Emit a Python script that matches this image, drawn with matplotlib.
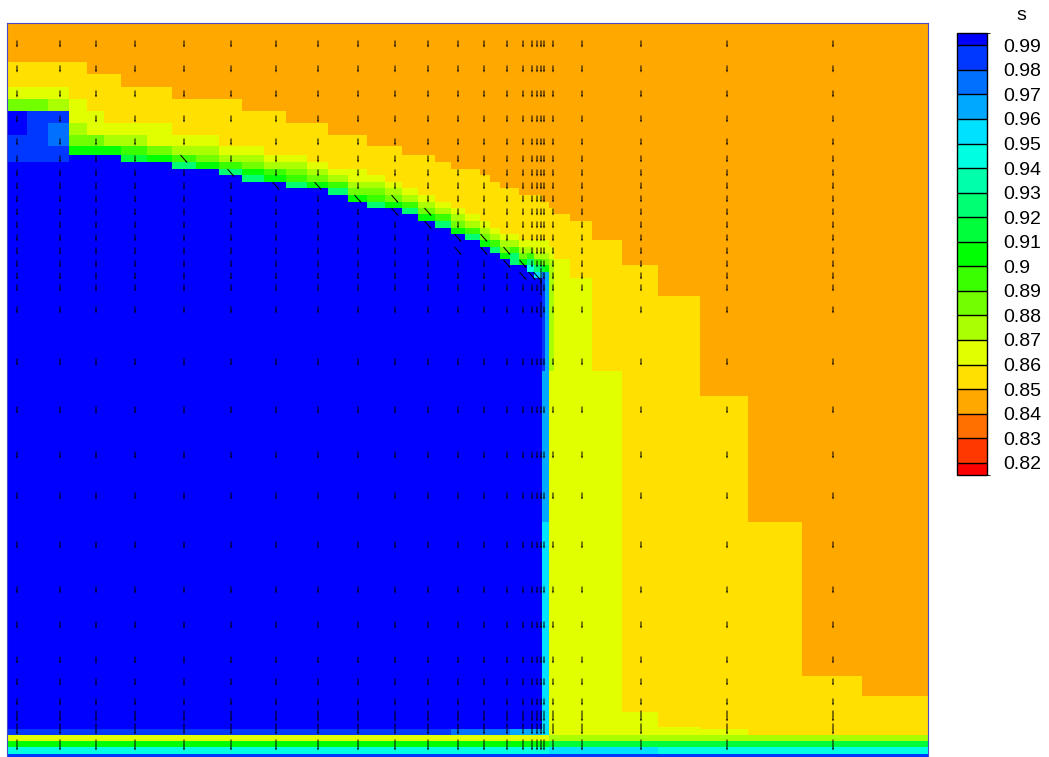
import re
import numpy as np
import matplotlib.pyplot as plt
from matplotlib.colors import LinearSegmentedColormap, ListedColormap, BoundaryNorm

plt.rcParams['font.family'] = ['Liberation Sans', 'DejaVu Sans']

# contour levels of s, plus half-width end bands
levels = [0.82, 0.83, 0.84, 0.85, 0.86, 0.87, 0.88, 0.89, 0.90,
          0.91, 0.92, 0.93, 0.94, 0.95, 0.96, 0.97, 0.98, 0.99]
bounds = [0.815] + levels + [0.995]

# one letter per band of s
band_value = {'B': 0.993, 'b': 0.985, 'c': 0.975, 'd': 0.965, 'e': 0.955,
              'f': 0.945, 'g': 0.935, 'h': 0.925, 'i': 0.915, 'G': 0.905,
              'j': 0.895, 'k': 0.885, 'l': 0.875, 'L': 0.865, 'Y': 0.855,
              'O': 0.845}

# cell edges of the mesh (mm), x left->right, z top->bottom
x_edges = [0, 20, 41, 62, 80, 97, 114, 140, 165, 189, 212, 235, 257, 279,
           300, 321, 341, 360, 378, 395, 411, 428, 444, 458, 473, 483, 493,
           503, 512, 520, 527, 535, 538, 542, 547, 563, 585, 615, 651, 693,
           741, 795, 855, 921]
z_edges = [734, 695, 683, 670, 658, 646, 634, 622, 611, 602, 595, 588, 582,
           575, 569, 562, 555, 549, 543, 536, 529, 523, 517, 510, 504, 498,
           492, 485, 479, 461, 386, 361, 235, 81, 61, 45, 30, 28, 22, 16, 10,
           3, 0]

# band letters of each mesh column, top to bottom, run-length coded
columns = [
    "OY2LkB2b3B27bLGfb", "OY2Lkb5B27bLGfb", "OY2Llbc2b2B27bLGfb",
    "OY3L2lkGB28bLGfb", "O2Y3L2kGB28bLGfb", "O2Y4LlGB28bLGfb",
    "O3Y3LljiB27bLGfb", "O3Y3L2kGB27bLGfb", "O4Y3LljhB26bLGfb",
    "O4Y3LlkGB26bLGfb", "O4Y4LljhB25bLGfb", "O5Y3LlkGhB24bLGfb",
    "O5Y4LljGB24bLGfb", "O6Y3LlkjhB23bLGfb", "O6Y4LlkGB23bLGfb",
    "O7Y4LljhB22bLGfb", "O7Y4L2lkGB21bLGfb", "O8Y4LlkjhB20bLGfb",
    "O8Y5LlkGB20bLGfb", "O9Y5LljhB19bLGfb", "O9Y6LlkGB18bLGfb",
    "O10Y6LljhB17bLGfb", "O11Y6LlkGB16cLGfb", "O11Y7LljhB15cLGfb",
    "O12Y7LlkGB14cLGfb", "O13Y7LljhB13cLGfb", "O14Y7LlkGB12cLGfb",
    "O14Y7Lljh2B11dLGfb", "O15Y7LlkGB11dLGfb", "O15Y7LljhfB10dLGfb",
    "O15Y7L2ljheB9dLGfb", "O16Y6L2lkicb2d2e6LGfb", "O16Y6L2lkGd5e6LGfb",
    "O17Y6L2l5L8lieb", "O18Y7L13lieb", "O19Y9L10lieb", "O22Y8L8lieb",
    "O26Y9L3lieb", "O29Y7L2lifb", "O31Y6Llifb", "O32Y6lifb", "O33Y5lifb",
    "O34Y4lifb",
]

# velocity vectors: grid positions (mm) and components
arrow_x = [10, 53, 89, 128, 177, 224, 269, 311, 351, 388, 421, 451, 477,
           500, 516, 525, 530, 534, 537, 546, 575, 634, 720, 826]
arrow_z = [713, 688, 663, 638, 615, 598, 584, 571, 558, 545, 532, 519, 506,
           493, 481, 469, 447, 395, 347, 302, 261, 212, 167, 132, 97, 75,
           55, 41, 28, 12]
tilted = [(4, 5), (5, 6), (6, 7), (7, 7), (8, 8), (9, 8), (9, 9), (10, 10),
          (11, 11), (11, 12), (12, 12), (13, 13), (14, 13), (14, 14),
          (15, 14), (16, 14), (13, 12), (12, 11), (10, 9)]
long_down = [(17, 14), (17, 15), (17, 16)]
bottom_rows = [27, 28, 29]


def decode(code):
    out = []
    for ch, n in re.findall(r'([A-Za-z])(\d*)', code):
        out += [band_value[ch]] * int(n or 1)
    return out


s = np.array([decode(c) for c in columns]).T      # rows top->bottom
s = s[::-1]
z = np.array(z_edges[::-1])

base = LinearSegmentedColormap.from_list(
    'rainbow5', ['#ff0000', '#ffff00', '#00ff00', '#00ffff', '#0000ff'])
cmap = ListedColormap(base(np.linspace(0, 1, len(bounds) - 1)))
norm = BoundaryNorm(bounds, cmap.N)

fig = plt.figure(figsize=(10.49, 7.57), dpi=100)
ax = fig.add_axes([7 / 1049, 0, 921 / 1049, 734 / 757])
mesh = ax.pcolormesh(x_edges, z, s, cmap=cmap, norm=norm, shading='flat')

X, Z = np.meshgrid(arrow_x, arrow_z, indexing='ij')
U = np.zeros_like(X, dtype=float)
V = np.full_like(X, -7.0, dtype=float)
for i, j in tilted:
    U[i, j], V[i, j] = 7, -8
for i, j in long_down:
    V[i, j] = -16
V[:, bottom_rows] = -11
ax.quiver(X, Z, U, V, angles='xy', scale_units='xy', scale=1, units='xy',
          width=1.0, headwidth=2.2, headlength=2.5, headaxislength=2.2,
          pivot='middle', color='k')

ax.set_xlim(0, 921)
ax.set_ylim(0, 734)
ax.set_xticks([])
ax.set_yticks([])
for sp in ax.spines.values():
    sp.set_color('#4848c8')
    sp.set_linewidth(0.8)

cax = fig.add_axes([957 / 1049, (757 - 475) / 757, 30 / 1049, 442 / 757])
cb = fig.colorbar(mesh, cax=cax, ticks=levels, spacing='proportional',
                  drawedges=True)
cb.dividers.set_color('k')
cb.dividers.set_linewidth(1)
cb.outline.set_edgecolor('k')
cb.outline.set_linewidth(1)
cax.tick_params(length=0, pad=12, labelsize=14)
cax.set_yticklabels(['%g' % v for v in levels])
fig.text(1021 / 1049, 1 - 15 / 757, 's', ha='center', va='center',
         fontsize=14)

fig.savefig('out.png', dpi=100)
